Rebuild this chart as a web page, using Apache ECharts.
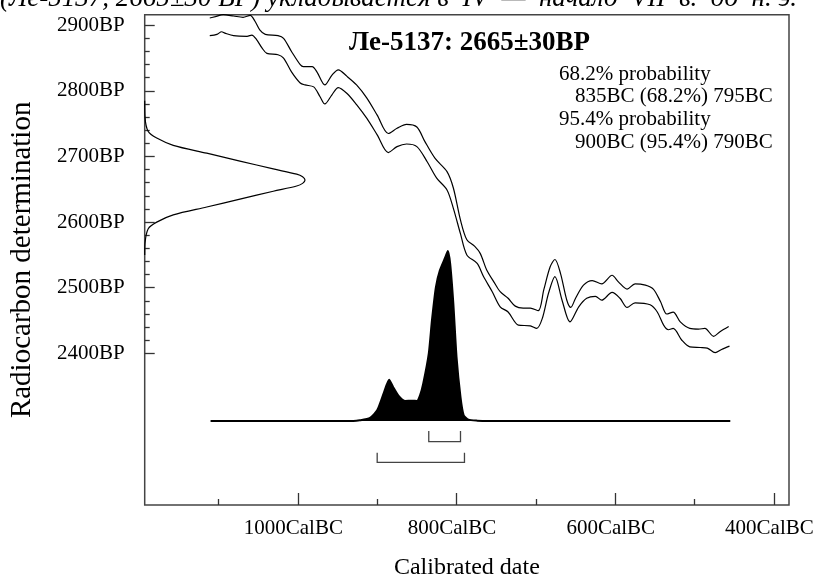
<!DOCTYPE html>
<html><head><meta charset="utf-8">
<script src="https://cdn.jsdelivr.net/npm/echarts@6/dist/echarts.min.js"></script>
<style>html,body{margin:0;padding:0;background:#fff}#c{width:815px;height:581px}</style>
</head><body><div id="c"></div>
<script>
// ---- data (calendar years BC, radiocarbon years BP) ----
const xMajorTicks = [1000, 800, 600, 400];
const xMinorTicks = [1100, 900, 700, 500];
const yMajorTicks = [2400, 2500, 2600, 2700, 2800, 2900];
const yMinorTicks = [2420, 2440, 2460, 2480, 2520, 2540, 2560, 2580, 2620, 2640, 2660, 2680,
                     2720, 2740, 2760, 2780, 2820, 2840, 2860, 2880];

// calibration curve, upper (+1 sigma) and lower (-1 sigma) edges: [yearBC, BP]
const calUpper = [[1111,2911],[1104,2913],[1094,2916],[1081,2914],[1069,2912],[1060,2915],[1054,2906],
  [1048,2893],[1041,2886],[1025,2884],[1018,2880],[1008,2860],[997,2840],[993,2837],[982,2837],[976,2829],
  [966,2809],[957,2824],[949,2832],[938,2822],[926,2809],[913,2789],[900,2763],[886,2735],[875,2743],
  [863,2749],[850,2745],[840,2723],[827,2697],[812,2677],[804,2652],[795,2603],[787,2573],[777,2563],
  [770,2552],[762,2527],[753,2509],[745,2494],[735,2484],[726,2472],[716,2469],[707,2469],[697,2465],
  [690,2497],[682,2532],[676,2543],[669,2522],[661,2481],[656,2470],[650,2484],[640,2504],[629,2511],
  [617,2506],[604,2519],[596,2509],[585,2498],[575,2506],[562,2504],[552,2498],[543,2479],[535,2460],
  [527,2463],[518,2448],[506,2438],[495,2437],[487,2438],[476,2426],[468,2433],[457,2441]];
const calLower = [[1111,2884],[1102,2886],[1096,2890],[1092,2888],[1081,2884],[1064,2883],[1058,2885],
  [1052,2878],[1045,2865],[1039,2857],[1025,2855],[1018,2850],[1008,2829],[997,2812],[991,2809],[980,2806],
  [972,2791],[966,2780],[957,2794],[949,2805],[938,2796],[926,2779],[913,2758],[900,2733],[886,2706],
  [875,2715],[863,2719],[850,2715],[837,2692],[825,2667],[812,2649],[804,2621],[795,2582],[787,2550],
  [774,2537],[766,2517],[755,2494],[745,2471],[735,2463],[722,2443],[707,2442],[699,2438],[692,2453],
  [684,2492],[676,2517],[667,2481],[657,2448],[646,2471],[636,2484],[625,2487],[617,2481],[604,2493],
  [594,2484],[585,2470],[575,2477],[556,2474],[547,2463],[539,2443],[533,2436],[527,2438],[516,2420],
  [506,2410],[493,2409],[484,2408],[474,2401],[466,2406],[456,2411]];

// radiocarbon measurement distribution (relative density) on the BP axis
const gaussBP  = [2550, 2568, 2590, 2600, 2611, 2623, 2635, 2647, 2655, 2659, 2664, 2669, 2673, 2681, 2693, 2705, 2717, 2728, 2738, 2760, 2785];
const gaussDen = [0, 0.002, 0.022, 0.075, 0.178, 0.387, 0.594, 0.802, 0.948, 0.985, 1.0, 0.985, 0.948, 0.802, 0.594, 0.387, 0.178, 0.075, 0.022, 0.002, 0];

// calibrated probability distribution: [yearBC, relative probability]
const calProb = [[1110,0],[930,0],[922,0.004],[909,0.019],[900,0.063],[892,0.161],[885,0.243],[880,0.2],
  [873,0.147],[865,0.118],[856,0.119],[850,0.118],[846,0.151],[842,0.219],[835,0.396],[831,0.592],
  [826,0.788],[821,0.886],[814,0.965],[811,1.0],[808,0.925],[804,0.69],[800,0.376],[795,0.141],
  [791,0.034],[785,0.008],[774,0.002],[760,0],[455,0]];

// highest probability ranges [fromBC, toBC]
const range68 = [835, 795];
const range95 = [900, 790];

const titleText = 'Ле-5137: 2665±30BP';
const infoLines = ['68.2% probability', '835BC (68.2%) 795BC', '95.4% probability', '900BC (95.4%) 790BC'];
const topText = '(Ле-5137, 2665±30 BP) укладывается в  IV  —  начало  VII  в.  до  н. э.';

// ---- chart ----
const FONT = "'Liberation Serif', 'Times New Roman', serif";
const chart = echarts.init(document.getElementById('c'), null, {renderer: 'canvas'});
const tickStyle = {color: '#333', width: 1.3};
const hiddenLabel = {show: false};

chart.setOption({
  animation: false,
  backgroundColor: '#fff',
  grid: {left: 144.7, right: 26, top: 14.7, bottom: 76, show: true, borderColor: '#444', borderWidth: 1.5,
         outerBoundsMode: 'none', containLabel: false},
  xAxis: [
    {type: 'value', min: 381, max: 1193, inverse: true, position: 'bottom',
     axisLine: {show: false, onZero: false}, splitLine: {show: false},
     axisTick: {show: true, inside: true, length: 12, customValues: xMajorTicks, lineStyle: tickStyle},
     axisLabel: {customValues: xMajorTicks, formatter: v => v + 'CalBC', margin: 13,
                 padding: [0, 9, 0, 0], fontSize: 21, fontFamily: FONT, color: '#000'},
     name: 'Calibrated date', nameLocation: 'middle', nameGap: 51,
     nameTextStyle: {fontSize: 24, fontFamily: FONT, color: '#000'}},
    {type: 'value', min: 381, max: 1193, inverse: true, position: 'bottom',
     axisLine: {show: false, onZero: false}, splitLine: {show: false}, axisLabel: hiddenLabel,
     axisTick: {show: true, inside: true, length: 6, customValues: xMinorTicks, lineStyle: tickStyle}},
    {type: 'value', min: 0, max: 4.019, show: false, axisLine: {onZero: false}}
  ],
  yAxis: [
    {type: 'value', min: 2169, max: 2916, position: 'left',
     axisLine: {show: false, onZero: false}, splitLine: {show: false},
     axisTick: {show: true, inside: true, length: 10, customValues: yMajorTicks, lineStyle: tickStyle},
     axisLabel: {customValues: yMajorTicks, formatter: v => v + 'BP', margin: 20,
                 fontSize: 21, fontFamily: FONT, color: '#000'},
     name: 'Radiocarbon determination', nameLocation: 'middle', nameGap: 108, nameRotate: 90,
     nameTextStyle: {fontSize: 29, fontFamily: FONT, color: '#000'}},
    {type: 'value', min: 2169, max: 2916, position: 'left',
     axisLine: {show: false, onZero: false}, splitLine: {show: false}, axisLabel: hiddenLabel,
     axisTick: {show: true, inside: true, length: 5, customValues: yMinorTicks, lineStyle: tickStyle}},
    {type: 'value', min: -0.4941, max: 2.39, show: false, axisLine: {onZero: false}}
  ],
  series: [
    {type: 'line', name: 'cal+', xAxisIndex: 0, yAxisIndex: 0, data: calUpper, symbol: 'none',
     smooth: 0.3, lineStyle: {color: '#000', width: 1.2}},
    {type: 'line', name: 'cal-', xAxisIndex: 0, yAxisIndex: 0, data: calLower, symbol: 'none',
     smooth: 0.3, lineStyle: {color: '#000', width: 1.2}},
    {type: 'line', name: 'measurement', xAxisIndex: 2, yAxisIndex: 0,
     data: gaussBP.map((b, i) => [gaussDen[i], b]), symbol: 'none', smooth: 0.3,
     lineStyle: {color: '#000', width: 1.2}},
    {type: 'line', name: 'calibrated', xAxisIndex: 0, yAxisIndex: 2, data: calProb, symbol: 'none',
     smooth: 0.2, lineStyle: {color: '#000', width: 2}, areaStyle: {color: '#000', opacity: 1}},
    {type: 'custom', name: 'ranges', xAxisIndex: 0, yAxisIndex: 2,
     data: [[range68[0], range68[1], 0], [range95[0], range95[1], 1]],
     renderItem: function (params, api) {
       const a = api.coord([api.value(0), 0]);
       const b = api.coord([api.value(1), 0]);
       const lvl = api.value(2);
       const yb = a[1] + (lvl === 0 ? 20.7 : 41.3);
       const h = lvl === 0 ? 10.7 : 9.6;
       return {type: 'polyline', shape: {points: [[a[0], yb - h], [a[0], yb], [b[0], yb], [b[0], yb - h]]},
               style: {stroke: '#444', lineWidth: 1.3, fill: null}};
     }}
  ],
  graphic: [
    {type: 'text', x: 0, y: -1.5, style: {text: topText, fontSize: 27, fontStyle: 'italic', fontFamily: FONT,
      fill: '#000', align: 'left', verticalAlign: 'middle'}},
    {type: 'text', x: 349, y: 43.5, style: {text: titleText, fontSize: 27, fontWeight: 'bold', fontFamily: FONT,
      fill: '#000', align: 'left', verticalAlign: 'middle'}},
    {type: 'text', x: 559, y: 74, style: {text: infoLines[0], fontSize: 21, fontFamily: FONT, fill: '#000', align: 'left', verticalAlign: 'middle'}},
    {type: 'text', x: 575, y: 96.5, style: {text: infoLines[1], fontSize: 21, fontFamily: FONT, fill: '#000', align: 'left', verticalAlign: 'middle'}},
    {type: 'text', x: 559, y: 119, style: {text: infoLines[2], fontSize: 21, fontFamily: FONT, fill: '#000', align: 'left', verticalAlign: 'middle'}},
    {type: 'text', x: 575, y: 142, style: {text: infoLines[3], fontSize: 21, fontFamily: FONT, fill: '#000', align: 'left', verticalAlign: 'middle'}}
  ]
});
</script>
</body></html>
